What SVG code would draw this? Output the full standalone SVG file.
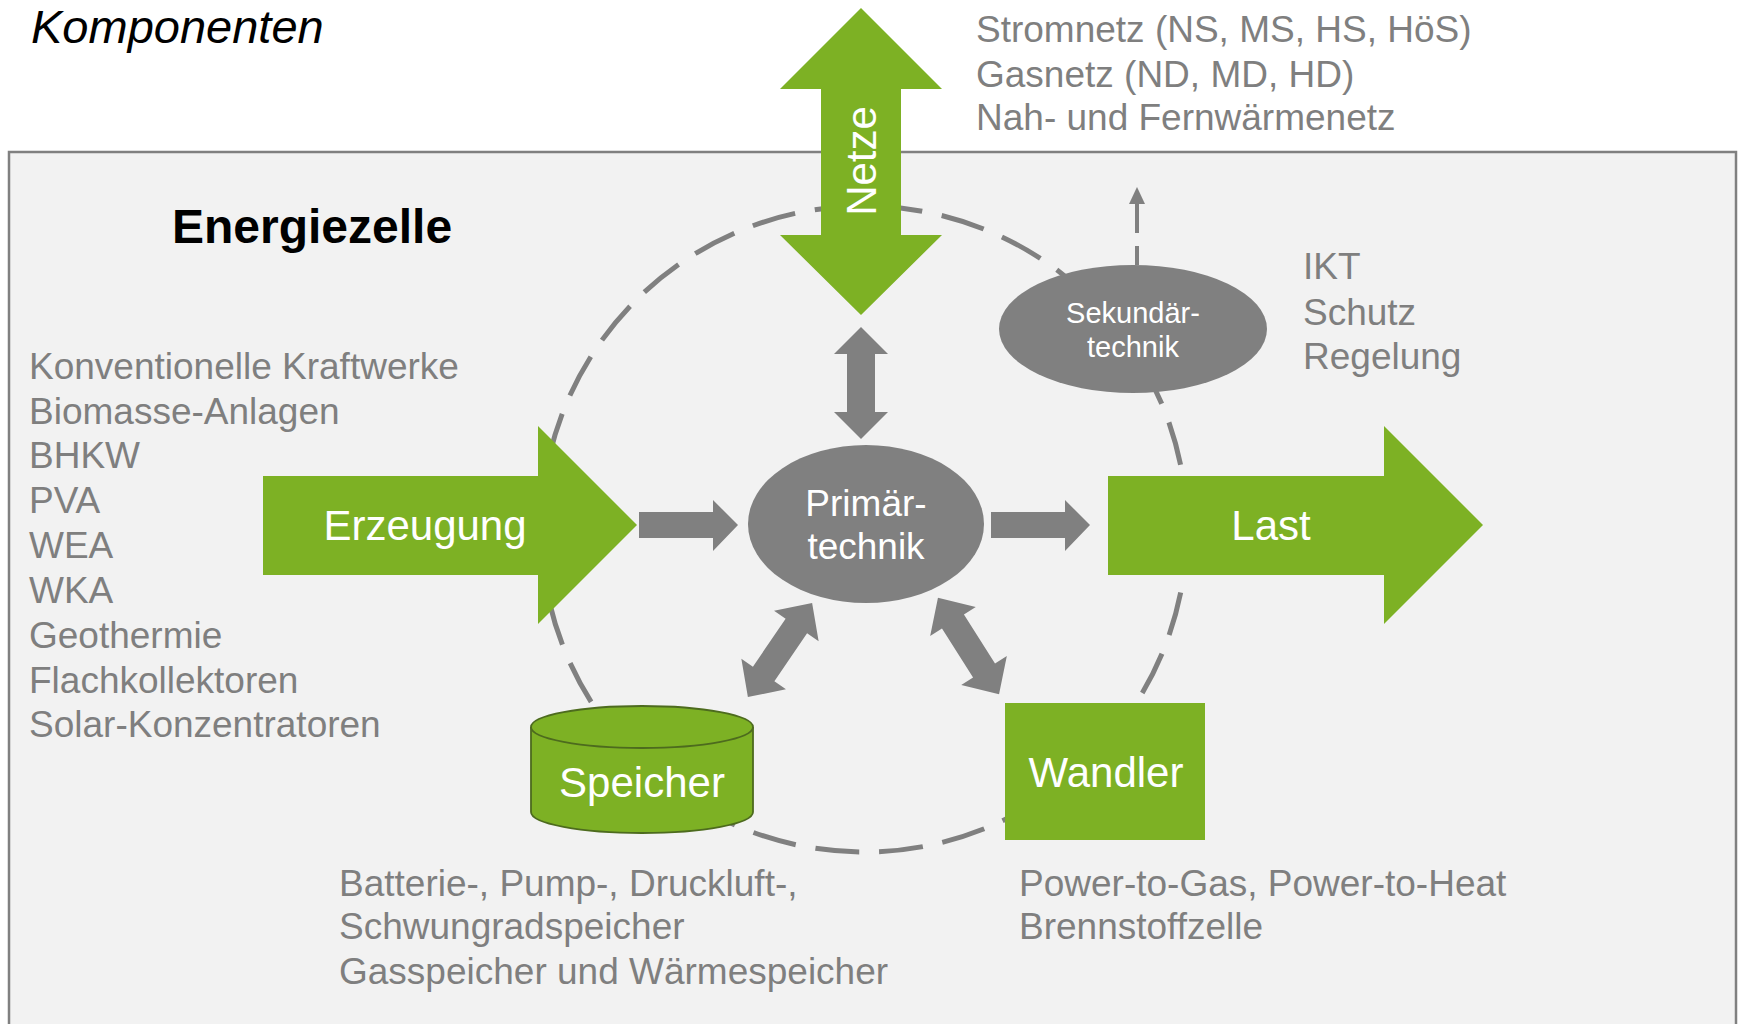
<svg xmlns="http://www.w3.org/2000/svg" width="1739" height="1024" viewBox="0 0 1739 1024">
<defs>
<style>
.t{font-family:"Liberation Sans",Arial,sans-serif;}
.gt{font-family:"Liberation Sans",Arial,sans-serif;font-size:37px;fill:#7f7f7f;}
.wt{font-family:"Liberation Sans",Arial,sans-serif;fill:#ffffff;text-anchor:middle;}
.green{fill:#7db124;}
.gray{fill:#808080;}
</style>
<polygon id="dbl" points="-57,0 -29,-27 -29,-13 29,-13 29,-27 57,0 29,27 29,13 -29,13 -29,27"/>
</defs>
<rect x="0" y="0" width="1739" height="1024" fill="#ffffff"/>
<rect id="frame" x="9" y="152" width="1727" height="900" fill="#f2f2f2" stroke="#808080" stroke-width="2.5"/>
<text class="t" x="31" y="43" font-size="47" font-style="italic" fill="#000000">Komponenten</text>
<text class="t" x="172" y="243" font-size="48" font-weight="bold" fill="#000000">Energiezelle</text>

<g id="connectors">
<circle id="cell-boundary" cx="864" cy="529" r="323" fill="none" stroke="#808080" stroke-width="5" stroke-dasharray="44 20"/>
<line x1="1137" y1="265" x2="1137" y2="203" stroke="#808080" stroke-width="4" stroke-dasharray="19 13 40"/>
<polygon class="gray" points="1137,187 1129,204 1145,204"/>
<polygon id="arrow-netze-primaer" class="gray" points="861,327 888,354 875,354 875,412 888,412 861,439 834,412 847,412 847,354 834,354"/>
<polygon id="arrow-erz-primaer" class="gray" points="639,512 713,512 713,500 738,525 713,551 713,538 639,538"/>
<polygon id="arrow-primaer-last" class="gray" points="991,512 1065,512 1065,500 1090,525 1065,551 1065,538 991,538"/>
<use href="#dbl" class="gray" transform="translate(780 650) rotate(-55.7)"/>
<use href="#dbl" class="gray" transform="translate(968.5 646) rotate(57.6)"/>
</g>

<g id="netze">
<polygon class="green" points="861,8 942,89 901,89 901,235 942,235 861,315 780,235 821,235 821,89 780,89"/>
<text class="wt" font-size="42" transform="translate(876 161) rotate(-90)">Netze</text>
</g>
<g id="netze-text">
<text class="gt" x="976" y="42">Stromnetz (NS, MS, HS, HöS)</text>
<text class="gt" x="976" y="87">Gasnetz (ND, MD, HD)</text>
<text class="gt" x="976" y="130">Nah- und Fernwärmenetz</text>
</g>

<g id="sekundaertechnik">
<ellipse cx="1133" cy="329" rx="134" ry="64" fill="#808080"/>
<text class="wt" font-size="29" x="1133" y="323">Sekundär-</text>
<text class="wt" font-size="29" x="1133" y="357">technik</text>
</g>
<g id="sekundaer-text">
<text class="gt" x="1303" y="279">IKT</text>
<text class="gt" x="1303" y="325">Schutz</text>
<text class="gt" x="1303" y="369">Regelung</text>
</g>

<g id="erzeugung">
<polygon class="green" points="263,476 538,476 538,426 637,525 538,624 538,575 263,575"/>
<text class="wt" font-size="42" x="425" y="540">Erzeugung</text>
</g>
<g id="erzeugung-text">
<text class="gt" x="29" y="379">Konventionelle Kraftwerke</text>
<text class="gt" x="29" y="424">Biomasse-Anlagen</text>
<text class="gt" x="29" y="468">BHKW</text>
<text class="gt" x="29" y="513">PVA</text>
<text class="gt" x="29" y="558">WEA</text>
<text class="gt" x="29" y="603">WKA</text>
<text class="gt" x="29" y="648">Geothermie</text>
<text class="gt" x="29" y="693">Flachkollektoren</text>
<text class="gt" x="29" y="737">Solar-Konzentratoren</text>
</g>

<g id="primaertechnik">
<ellipse cx="866" cy="524" rx="118" ry="79" fill="#808080"/>
<text class="wt" font-size="37" x="866" y="516">Primär-</text>
<text class="wt" font-size="37" x="866" y="559">technik</text>
</g>

<g id="last">
<polygon class="green" points="1108,476 1384,476 1384,426 1483,525 1384,624 1384,575 1108,575"/>
<text class="wt" font-size="42" x="1271" y="540">Last</text>
</g>

<g id="speicher">
<path d="M531,727 L531,812 A111,21 0 0 0 753,812 L753,727 A111,21 0 0 0 531,727 Z" fill="#7db124" stroke="#4d6b1e" stroke-width="1.8"/>
<path d="M531,727 A111,21 0 0 0 753,727" fill="none" stroke="#4d6b1e" stroke-width="1.8"/>
<text class="wt" font-size="42" x="642" y="797">Speicher</text>
</g>
<g id="speicher-text">
<text class="gt" x="339" y="896">Batterie-, Pump-, Druckluft-,</text>
<text class="gt" x="339" y="939">Schwungradspeicher</text>
<text class="gt" x="339" y="984">Gasspeicher und Wärmespeicher</text>
</g>

<g id="wandler">
<rect x="1005" y="703" width="200" height="137" fill="#7db124"/>
<text class="wt" font-size="42" x="1106" y="787">Wandler</text>
</g>
<g id="wandler-text">
<text class="gt" x="1019" y="896">Power-to-Gas, Power-to-Heat</text>
<text class="gt" x="1019" y="939">Brennstoffzelle</text>
</g>
</svg>
